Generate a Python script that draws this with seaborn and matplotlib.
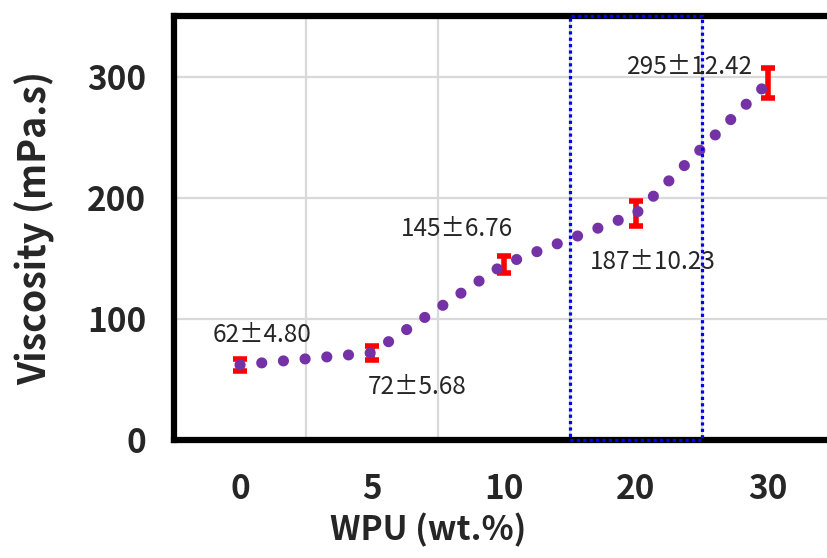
import numpy as np
import pandas as pd
import matplotlib
matplotlib.use("Agg")
import matplotlib.pyplot as plt
import seaborn as sns
from matplotlib.patches import Rectangle

# Data
wpu_labels = ["0", "5", "10", "20", "30"]
viscosity = [62, 72, 145, 187, 295]
viscosity_err = [4.80, 5.68, 6.76, 10.23, 12.42]
annot_text = ["62±4.80", "72±5.68", "145±6.76", "187±10.23", "295±12.42"]

sns.set_style("white")
plt.rcParams['font.family'] = ['Noto Sans CJK KR', 'DejaVu Sans']

df = pd.DataFrame({'pos': np.arange(len(wpu_labels)), 'visc': viscosity, 'err': viscosity_err})

fig = plt.figure(figsize=(8.28, 5.58), dpi=100)
# axes run a little past the right edge, like the cropped original
ax = fig.add_axes([174 / 828, 118 / 558, 660 / 828, 424 / 558])

# red error bars
ax.errorbar(df['pos'], df['visc'], yerr=df['err'], fmt='none', ecolor='#FF0000',
            elinewidth=4, capsize=5, capthick=4, zorder=3)

# purple round-dotted line
sns.lineplot(data=df, x='pos', y='visc', ax=ax, color='#7432A6', linewidth=8,
             linestyle=(0, (0.01, 1.95)), dash_capstyle='round', zorder=4)

# blue dotted box around the 20 wt.% group
ax.add_patch(Rectangle((2.5, 0), 1, 350, fill=False, edgecolor='#0000FF',
                       linewidth=2.3, linestyle=(0, (1, 1)), zorder=5, clip_on=False))

# value labels
label_xy = [(0.17, 87), (1.34, 44), (1.64, 174), (3.13, 147), (3.41, 308)]
for (tx, ty), s in zip(label_xy, annot_text):
    ax.text(tx, ty, s, ha='center', va='center', fontsize=17.5, color='#262626', zorder=6)

ax.set_xlim(-0.5, 4.5)
ax.set_ylim(0, 350)
ax.set_xticks(df['pos'])
ax.set_xticklabels(wpu_labels)
ax.set_xticks(np.arange(-0.5, 4.6, 1), minor=True)
ax.set_yticks([0, 100, 200, 300])

ax.tick_params(axis='x', which='major', length=0, pad=24, labelsize=24)
ax.tick_params(axis='x', which='minor', length=7, width=4, direction='out', color='black')
ax.tick_params(axis='y', which='major', length=6, width=4, direction='in', pad=20,
               labelsize=24, color='black')
for lab in ax.get_xticklabels() + ax.get_yticklabels():
    lab.set_fontweight('bold')

ax.grid(False)
ax.grid(True, which='minor', axis='x', color='#D9D9D9', linewidth=1.6, zorder=0)
ax.grid(True, which='major', axis='y', color='#D9D9D9', linewidth=1.6, zorder=0)
ax.set_axisbelow(True)

for side in ['left', 'bottom', 'top', 'right']:
    ax.spines[side].set_color('black')
    ax.spines[side].set_linewidth(4.5)

ax.set_xlabel('WPU (wt.%)', fontsize=24, fontweight='bold')
ax.set_ylabel('Viscosity (mPa.s)', fontsize=27, fontweight='bold')
ax.xaxis.set_label_coords(0.385, -0.172)
ax.yaxis.set_label_coords(-0.18, 0.5)

fig.savefig('out.png', dpi=100)
